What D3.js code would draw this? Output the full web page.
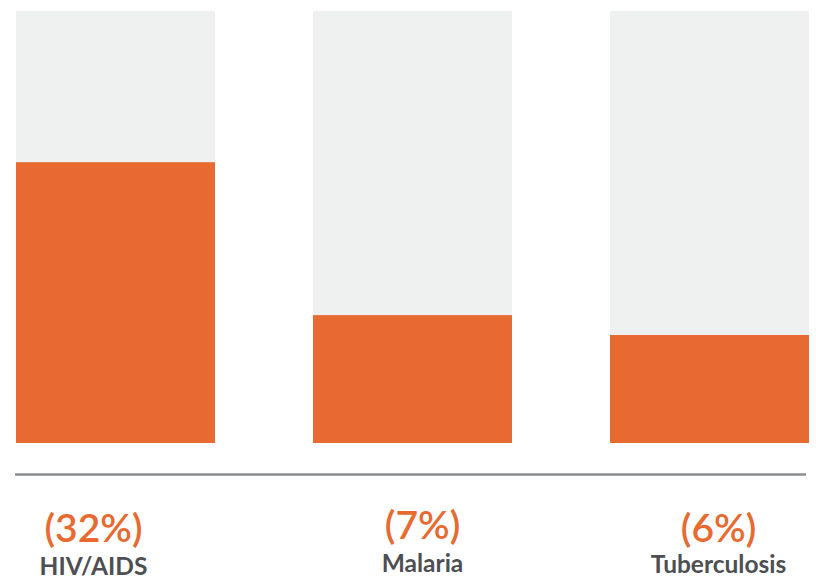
<!DOCTYPE html>
<html>
<head>
<meta charset="utf-8">
<script src="https://cdn.jsdelivr.net/npm/d3@7"></script>
<style>
  body { margin: 0; background: #fff; }
  svg { display: block; }
</style>
</head>
<body>
<div id="chart"></div>
<script>
// data (bar height as share of the grey column)
var categories = ["HIV/AIDS", "Malaria", "Tuberculosis"];
var values = [65, 29.6, 25];
var pctLabels = ["(32%)", "(7%)", "(6%)"];
var maxValue = 100;

var orange = "#e76a30";
var grey = "#eff1f0";
var textGrey = "#4d4f52";

var width = 816, height = 579;
var margin = { top: 11, right: 7, left: 16 };
var plotBottom = 443;
// labels are not exactly centred under the bars in the original
var labelShift = [-22, 10, 9];

var svg = d3
  .select("#chart")
  .append("svg")
  .attr("width", width)
  .attr("height", height);

var x = d3
  .scaleBand()
  .domain(categories)
  .range([margin.left, width - margin.right])
  .paddingInner(0.33)
  .paddingOuter(0);

var y = d3.scaleLinear().domain([0, maxValue]).range([plotBottom, margin.top]);

// background columns
svg
  .append("g")
  .selectAll("rect")
  .data(categories)
  .join("rect")
  .attr("x", (d) => x(d))
  .attr("width", x.bandwidth())
  .attr("y", y(maxValue))
  .attr("height", y(0) - y(maxValue))
  .style("fill", grey);

// value bars
svg
  .append("g")
  .selectAll("rect")
  .data(values)
  .join("rect")
  .attr("x", (d, i) => x(categories[i]))
  .attr("width", x.bandwidth())
  .attr("y", (d) => y(d))
  .attr("height", (d) => y(0) - y(d))
  .style("fill", orange);

// base rule
svg
  .append("line")
  .attr("x1", 15)
  .attr("x2", 806)
  .attr("y1", 474.5)
  .attr("y2", 474.5)
  .style("stroke", "#8a8c8e")
  .style("stroke-width", 2.5);

var labels = svg
  .append("g")
  .selectAll("g")
  .data(categories)
  .join("g")
  .attr("transform", (d, i) => `translate(${x(d) + x.bandwidth() / 2 + labelShift[i]},0)`);

labels
  .append("text")
  .attr("y", (d, i) => [542, 539, 542][i])
  .attr("text-anchor", "middle")
  .style("font-family", "Lato, 'Open Sans', sans-serif")
  .style("font-weight", 600)
  .style("font-size", "39px")
  .style("fill", orange)
  .text((d, i) => pctLabels[i]);

labels
  .append("text")
  .attr("y", (d, i) => [575, 572, 573][i])
  .attr("text-anchor", "middle")
  .style("font-family", "Lato, 'Open Sans', sans-serif")
  .style("font-weight", 700)
  .style("font-size", "24.5px")
  .style("fill", textGrey)
  .text((d) => d);
</script>
</body>
</html>
